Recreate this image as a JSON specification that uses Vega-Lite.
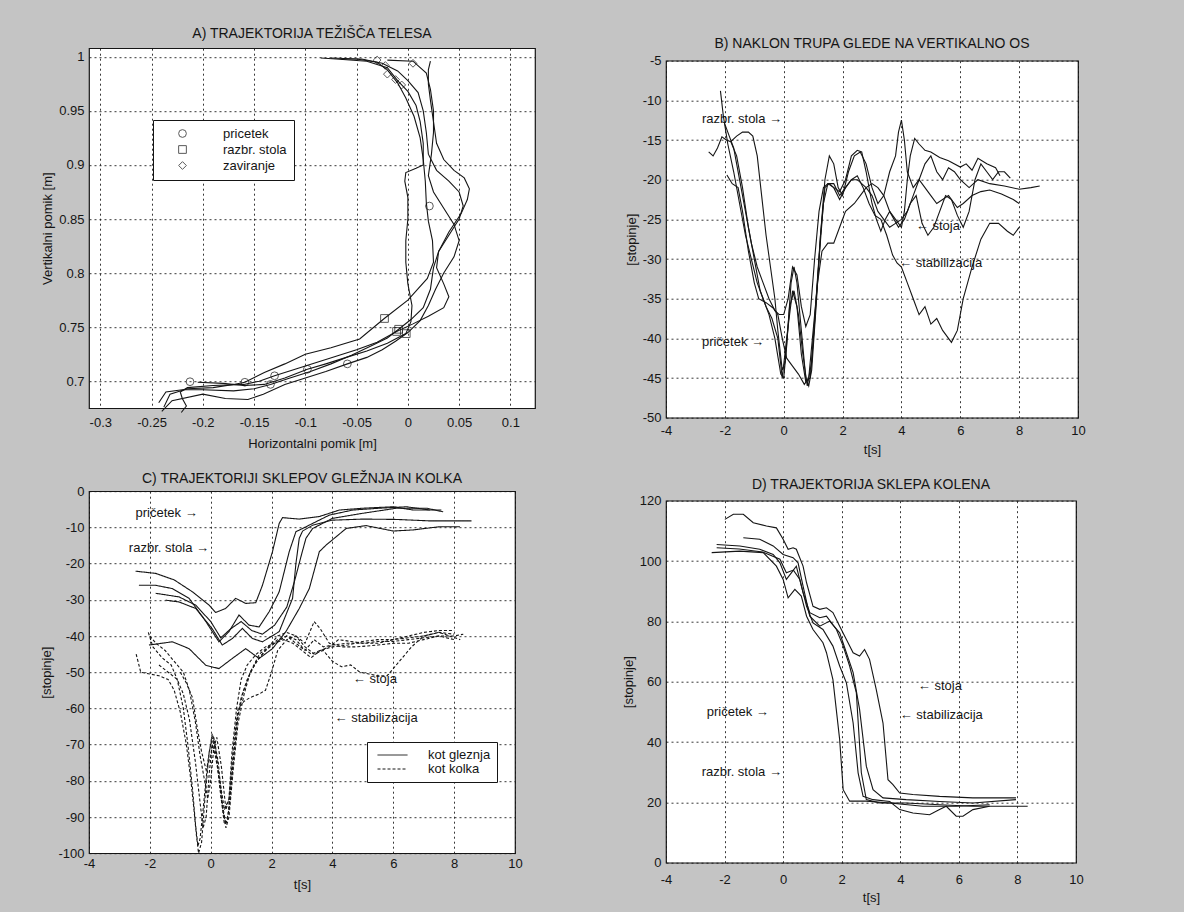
{
 "$schema": "https://vega.github.io/schema/vega-lite/v6.json",
 "background": "#c4c4c4",
 "padding": {"left": 40, "top": 26, "right": 100, "bottom": 12},
 "datasets": {
  "A": [
   {"c":1,"x":-0.238,"y":0.676},{"c":1,"x":-0.232,"y":0.688},{"c":1,"x":-0.215,"y":0.693},{"c":1,"x":-0.19,"y":0.694},{"c":1,"x":-0.17,"y":0.697},{"c":1,"x":-0.159,"y":0.699},{"c":1,"x":-0.14,"y":0.708},{"c":1,"x":-0.12,"y":0.716},{"c":1,"x":-0.1,"y":0.725},{"c":1,"x":-0.075,"y":0.731},{"c":1,"x":-0.047,"y":0.739},{"c":1,"x":-0.023,"y":0.758},{"c":1,"x":0,"y":0.775},{"c":1,"x":0.019,"y":0.795},{"c":1,"x":0.025,"y":0.81},{"c":1,"x":0.024,"y":0.83},{"c":1,"x":0.02,"y":0.848},{"c":1,"x":0.018,"y":0.865},{"c":1,"x":0.017,"y":0.885},{"c":1,"x":0.015,"y":0.905},{"c":1,"x":0.012,"y":0.925},{"c":1,"x":0.006,"y":0.945},{"c":1,"x":-0.002,"y":0.962},{"c":1,"x":-0.01,"y":0.976},{"c":1,"x":-0.02,"y":0.988},{"c":1,"x":-0.03,"y":0.995},{"c":1,"x":-0.05,"y":0.998},{"c":1,"x":-0.075,"y":0.999},
   {"c":2,"x":-0.221,"y":0.671},{"c":2,"x":-0.216,"y":0.677},{"c":2,"x":-0.22,"y":0.684},{"c":2,"x":-0.222,"y":0.69},{"c":2,"x":-0.215,"y":0.694},{"c":2,"x":-0.19,"y":0.696},{"c":2,"x":-0.16,"y":0.697},{"c":2,"x":-0.145,"y":0.7},{"c":2,"x":-0.13,"y":0.705},{"c":2,"x":-0.11,"y":0.711},{"c":2,"x":-0.09,"y":0.717},{"c":2,"x":-0.07,"y":0.723},{"c":2,"x":-0.05,"y":0.729},{"c":2,"x":-0.03,"y":0.736},{"c":2,"x":-0.011,"y":0.746},{"c":2,"x":0.005,"y":0.753},{"c":2,"x":0.02,"y":0.76},{"c":2,"x":0.035,"y":0.768},{"c":2,"x":0.04,"y":0.778},{"c":2,"x":0.035,"y":0.79},{"c":2,"x":0.028,"y":0.805},{"c":2,"x":0.03,"y":0.82},{"c":2,"x":0.04,"y":0.835},{"c":2,"x":0.05,"y":0.85},{"c":2,"x":0.054,"y":0.862},{"c":2,"x":0.05,"y":0.875},{"c":2,"x":0.04,"y":0.885},{"c":2,"x":0.028,"y":0.895},{"c":2,"x":0.02,"y":0.91},{"c":2,"x":0.018,"y":0.93},{"c":2,"x":0.015,"y":0.95},{"c":2,"x":0.01,"y":0.967},{"c":2,"x":0,"y":0.978},{"c":2,"x":-0.01,"y":0.987},{"c":2,"x":-0.025,"y":0.994},{"c":2,"x":-0.045,"y":0.998},{"c":2,"x":-0.065,"y":0.998},
   {"c":3,"x":-0.243,"y":0.68},{"c":3,"x":-0.236,"y":0.69},{"c":3,"x":-0.22,"y":0.692},{"c":3,"x":-0.2,"y":0.692},{"c":3,"x":-0.17,"y":0.691},{"c":3,"x":-0.15,"y":0.693},{"c":3,"x":-0.134,"y":0.697},{"c":3,"x":-0.115,"y":0.703},{"c":3,"x":-0.095,"y":0.709},{"c":3,"x":-0.075,"y":0.716},{"c":3,"x":-0.055,"y":0.724},{"c":3,"x":-0.035,"y":0.733},{"c":3,"x":-0.02,"y":0.74},{"c":3,"x":-0.009,"y":0.748},{"c":3,"x":0.003,"y":0.757},{"c":3,"x":0.015,"y":0.768},{"c":3,"x":0.022,"y":0.785},{"c":3,"x":0.025,"y":0.805},{"c":3,"x":0.03,"y":0.82},{"c":3,"x":0.04,"y":0.838},{"c":3,"x":0.052,"y":0.855},{"c":3,"x":0.058,"y":0.868},{"c":3,"x":0.06,"y":0.878},{"c":3,"x":0.055,"y":0.888},{"c":3,"x":0.045,"y":0.895},{"c":3,"x":0.035,"y":0.905},{"c":3,"x":0.028,"y":0.92},{"c":3,"x":0.025,"y":0.94},{"c":3,"x":0.022,"y":0.96},{"c":3,"x":0.02,"y":0.975},{"c":3,"x":0.02,"y":0.988},{"c":3,"x":0.022,"y":0.996},
   {"c":4,"x":-0.205,"y":0.699},{"c":4,"x":-0.18,"y":0.698},{"c":4,"x":-0.16,"y":0.696},{"c":4,"x":-0.14,"y":0.697},{"c":4,"x":-0.12,"y":0.703},{"c":4,"x":-0.098,"y":0.711},{"c":4,"x":-0.08,"y":0.716},{"c":4,"x":-0.06,"y":0.722},{"c":4,"x":-0.04,"y":0.728},{"c":4,"x":-0.02,"y":0.735},{"c":4,"x":-0.002,"y":0.744},{"c":4,"x":0.003,"y":0.755},{"c":4,"x":0.004,"y":0.77},{"c":4,"x":0,"y":0.79},{"c":4,"x":-0.002,"y":0.81},{"c":4,"x":-0.002,"y":0.83},{"c":4,"x":0,"y":0.85},{"c":4,"x":0,"y":0.87},{"c":4,"x":-0.003,"y":0.885},{"c":4,"x":-0.002,"y":0.893},{"c":4,"x":0.008,"y":0.897},{"c":4,"x":0.015,"y":0.9},{"c":4,"x":0.015,"y":0.92},{"c":4,"x":0.012,"y":0.94},{"c":4,"x":0.008,"y":0.955},{"c":4,"x":0,"y":0.968},{"c":4,"x":-0.01,"y":0.978},{"c":4,"x":-0.02,"y":0.99},{"c":4,"x":-0.04,"y":0.996},{"c":4,"x":-0.07,"y":0.998},{"c":4,"x":-0.085,"y":0.999},
   {"c":5,"x":-0.24,"y":0.672},{"c":5,"x":-0.23,"y":0.682},{"c":5,"x":-0.2,"y":0.688},{"c":5,"x":-0.178,"y":0.684},{"c":5,"x":-0.156,"y":0.683},{"c":5,"x":-0.141,"y":0.688},{"c":5,"x":-0.12,"y":0.697},{"c":5,"x":-0.1,"y":0.703},{"c":5,"x":-0.08,"y":0.709},{"c":5,"x":-0.059,"y":0.716},{"c":5,"x":-0.04,"y":0.722},{"c":5,"x":-0.025,"y":0.729},{"c":5,"x":-0.012,"y":0.737},{"c":5,"x":0,"y":0.745},{"c":5,"x":0.012,"y":0.756},{"c":5,"x":0.02,"y":0.77},{"c":5,"x":0.027,"y":0.785},{"c":5,"x":0.035,"y":0.8},{"c":5,"x":0.045,"y":0.815},{"c":5,"x":0.05,"y":0.83},{"c":5,"x":0.045,"y":0.845},{"c":5,"x":0.035,"y":0.86},{"c":5,"x":0.025,"y":0.875},{"c":5,"x":0.02,"y":0.89},{"c":5,"x":0.023,"y":0.91},{"c":5,"x":0.025,"y":0.93},{"c":5,"x":0.025,"y":0.95},{"c":5,"x":0.022,"y":0.97},{"c":5,"x":0.018,"y":0.985},{"c":5,"x":0.005,"y":0.996},{"c":5,"x":-0.02,"y":0.997}
  ],
  "Amk": [
   {"m":"pricetek","x":-0.2125,"y":0.6995},{"m":"pricetek","x":-0.159,"y":0.699},{"m":"pricetek","x":-0.13,"y":0.705},{"m":"pricetek","x":-0.134,"y":0.697},{"m":"pricetek","x":-0.098,"y":0.711},{"m":"pricetek","x":-0.059,"y":0.716},{"m":"pricetek","x":0.021,"y":0.862},
   {"m":"razbr. stola","x":-0.0228,"y":0.758},{"m":"razbr. stola","x":-0.011,"y":0.746},{"m":"razbr. stola","x":-0.009,"y":0.748},{"m":"razbr. stola","x":-0.0016,"y":0.744},
   {"m":"zaviranje","x":-0.03,"y":0.997},{"m":"zaviranje","x":-0.022,"y":0.992},{"m":"zaviranje","x":-0.02,"y":0.984},{"m":"zaviranje","x":-0.012,"y":0.979},{"m":"zaviranje","x":-0.006,"y":0.974},{"m":"zaviranje","x":0.005,"y":0.994}
  ],
  "B": [
   {"c":1,"t":-2.15,"v":-8.8},{"c":1,"t":-2.05,"v":-12},{"c":1,"t":-1.9,"v":-15.5},{"c":1,"t":-1.7,"v":-19},{"c":1,"t":-1.5,"v":-23},{"c":1,"t":-1.3,"v":-27},{"c":1,"t":-1.1,"v":-30},{"c":1,"t":-0.9,"v":-33},{"c":1,"t":-0.7,"v":-35},{"c":1,"t":-0.5,"v":-37},{"c":1,"t":-0.3,"v":-40},{"c":1,"t":-0.1,"v":-44.5},{"c":1,"t":0,"v":-45},{"c":1,"t":0.1,"v":-41},{"c":1,"t":0.25,"v":-33},{"c":1,"t":0.35,"v":-31},{"c":1,"t":0.45,"v":-33},{"c":1,"t":0.6,"v":-39},{"c":1,"t":0.75,"v":-45},{"c":1,"t":0.85,"v":-46},{"c":1,"t":0.95,"v":-44},{"c":1,"t":1.1,"v":-36},{"c":1,"t":1.25,"v":-27},{"c":1,"t":1.4,"v":-20},{"c":1,"t":1.55,"v":-17},{"c":1,"t":1.7,"v":-18},{"c":1,"t":1.85,"v":-21},{"c":1,"t":2,"v":-22},{"c":1,"t":2.2,"v":-19},{"c":1,"t":2.4,"v":-17},{"c":1,"t":2.6,"v":-16.5},{"c":1,"t":2.8,"v":-18},{"c":1,"t":3,"v":-21},{"c":1,"t":3.2,"v":-23},{"c":1,"t":3.4,"v":-22},{"c":1,"t":3.6,"v":-19},{"c":1,"t":3.8,"v":-17},{"c":1,"t":3.9,"v":-14},{"c":1,"t":4,"v":-12.5},{"c":1,"t":4.1,"v":-15},{"c":1,"t":4.2,"v":-19},{"c":1,"t":4.4,"v":-21},{"c":1,"t":4.6,"v":-20},{"c":1,"t":4.8,"v":-18},{"c":1,"t":5,"v":-17},{"c":1,"t":5.2,"v":-19},{"c":1,"t":5.4,"v":-20},{"c":1,"t":5.6,"v":-18.5},{"c":1,"t":5.8,"v":-19},{"c":1,"t":6,"v":-20},{"c":1,"t":6.3,"v":-21},{"c":1,"t":6.6,"v":-20},{"c":1,"t":7,"v":-20.5},{"c":1,"t":7.5,"v":-20.8},{"c":1,"t":8,"v":-21.2},{"c":1,"t":8.4,"v":-21},{"c":1,"t":8.7,"v":-20.8},
   {"c":2,"t":-2.55,"v":-16.5},{"c":2,"t":-2.4,"v":-17},{"c":2,"t":-2.25,"v":-16},{"c":2,"t":-2.1,"v":-14.6},{"c":2,"t":-1.95,"v":-15},{"c":2,"t":-1.8,"v":-15.2},{"c":2,"t":-1.6,"v":-17},{"c":2,"t":-1.4,"v":-21},{"c":2,"t":-1.2,"v":-26},{"c":2,"t":-1,"v":-30},{"c":2,"t":-0.8,"v":-34},{"c":2,"t":-0.6,"v":-36},{"c":2,"t":-0.4,"v":-37.5},{"c":2,"t":-0.2,"v":-40},{"c":2,"t":-0.05,"v":-45},{"c":2,"t":0.1,"v":-40},{"c":2,"t":0.3,"v":-34},{"c":2,"t":0.45,"v":-36},{"c":2,"t":0.6,"v":-42},{"c":2,"t":0.75,"v":-45.5},{"c":2,"t":0.9,"v":-45},{"c":2,"t":1.05,"v":-38},{"c":2,"t":1.2,"v":-30},{"c":2,"t":1.35,"v":-23},{"c":2,"t":1.5,"v":-20.5},{"c":2,"t":1.7,"v":-20.5},{"c":2,"t":1.9,"v":-22},{"c":2,"t":2.1,"v":-21},{"c":2,"t":2.3,"v":-20},{"c":2,"t":2.5,"v":-19.5},{"c":2,"t":2.7,"v":-21},{"c":2,"t":2.9,"v":-23},{"c":2,"t":3.1,"v":-24.5},{"c":2,"t":3.3,"v":-25},{"c":2,"t":3.5,"v":-27},{"c":2,"t":3.7,"v":-29.5},{"c":2,"t":3.85,"v":-30.5},{"c":2,"t":4,"v":-31},{"c":2,"t":4.2,"v":-33},{"c":2,"t":4.4,"v":-35},{"c":2,"t":4.6,"v":-37},{"c":2,"t":4.8,"v":-36},{"c":2,"t":5,"v":-38.2},{"c":2,"t":5.2,"v":-37.5},{"c":2,"t":5.4,"v":-39},{"c":2,"t":5.7,"v":-40.5},{"c":2,"t":5.9,"v":-39},{"c":2,"t":6.1,"v":-35},{"c":2,"t":6.4,"v":-31},{"c":2,"t":6.7,"v":-27.5},{"c":2,"t":7,"v":-25.5},{"c":2,"t":7.3,"v":-25.5},{"c":2,"t":7.6,"v":-26.5},{"c":2,"t":7.8,"v":-27},{"c":2,"t":8,"v":-26},
   {"c":3,"t":-1.8,"v":-15.2},{"c":3,"t":-1.6,"v":-14.5},{"c":3,"t":-1.4,"v":-14},{"c":3,"t":-1.2,"v":-14},{"c":3,"t":-1.05,"v":-14.5},{"c":3,"t":-0.9,"v":-17},{"c":3,"t":-0.75,"v":-22},{"c":3,"t":-0.6,"v":-27},{"c":3,"t":-0.45,"v":-31},{"c":3,"t":-0.3,"v":-35},{"c":3,"t":-0.2,"v":-39},{"c":3,"t":-0.05,"v":-44},{"c":3,"t":0.05,"v":-43},{"c":3,"t":0.2,"v":-36},{"c":3,"t":0.35,"v":-34},{"c":3,"t":0.5,"v":-37},{"c":3,"t":0.65,"v":-42},{"c":3,"t":0.8,"v":-46},{"c":3,"t":0.95,"v":-43},{"c":3,"t":1.1,"v":-35},{"c":3,"t":1.25,"v":-27},{"c":3,"t":1.4,"v":-21},{"c":3,"t":1.55,"v":-20.5},{"c":3,"t":1.7,"v":-21},{"c":3,"t":1.9,"v":-22.5},{"c":3,"t":2.1,"v":-21},{"c":3,"t":2.3,"v":-20},{"c":3,"t":2.5,"v":-20},{"c":3,"t":2.8,"v":-21},{"c":3,"t":3,"v":-22},{"c":3,"t":3.2,"v":-24},{"c":3,"t":3.4,"v":-25},{"c":3,"t":3.6,"v":-26},{"c":3,"t":3.8,"v":-25.5},{"c":3,"t":4,"v":-25},{"c":3,"t":4.2,"v":-24},{"c":3,"t":4.4,"v":-22},{"c":3,"t":4.6,"v":-20},{"c":3,"t":4.8,"v":-21},{"c":3,"t":5,"v":-22},{"c":3,"t":5.2,"v":-23},{"c":3,"t":5.4,"v":-22.5},{"c":3,"t":5.6,"v":-22},{"c":3,"t":5.9,"v":-23.5},{"c":3,"t":6.1,"v":-23},{"c":3,"t":6.4,"v":-22},{"c":3,"t":6.7,"v":-21.5},{"c":3,"t":7,"v":-21.3},{"c":3,"t":7.4,"v":-21.8},{"c":3,"t":7.8,"v":-22.5},{"c":3,"t":8,"v":-23},
   {"c":4,"t":-1.93,"v":-19.4},{"c":4,"t":-1.75,"v":-20.5},{"c":4,"t":-1.55,"v":-21},{"c":4,"t":-1.4,"v":-24},{"c":4,"t":-1.2,"v":-29},{"c":4,"t":-1,"v":-33},{"c":4,"t":-0.85,"v":-35},{"c":4,"t":-0.6,"v":-35.5},{"c":4,"t":-0.35,"v":-36.2},{"c":4,"t":-0.2,"v":-37},{"c":4,"t":-0.05,"v":-40},{"c":4,"t":0.1,"v":-42.5},{"c":4,"t":0.3,"v":-43.5},{"c":4,"t":0.5,"v":-44.5},{"c":4,"t":0.7,"v":-45.8},{"c":4,"t":0.85,"v":-45},{"c":4,"t":1,"v":-39},{"c":4,"t":1.15,"v":-33},{"c":4,"t":1.3,"v":-29},{"c":4,"t":1.5,"v":-28},{"c":4,"t":1.7,"v":-28},{"c":4,"t":1.9,"v":-26},{"c":4,"t":2.1,"v":-24},{"c":4,"t":2.4,"v":-23},{"c":4,"t":2.6,"v":-22},{"c":4,"t":2.8,"v":-21},{"c":4,"t":3,"v":-20.5},{"c":4,"t":3.2,"v":-21},{"c":4,"t":3.4,"v":-22},{"c":4,"t":3.6,"v":-24},{"c":4,"t":3.8,"v":-25},{"c":4,"t":4,"v":-26},{"c":4,"t":4.1,"v":-24},{"c":4,"t":4.2,"v":-20},{"c":4,"t":4.3,"v":-17},{"c":4,"t":4.45,"v":-14.8},{"c":4,"t":4.6,"v":-15.5},{"c":4,"t":4.8,"v":-16.3},{"c":4,"t":5,"v":-16.5},{"c":4,"t":5.3,"v":-17.2},{"c":4,"t":5.6,"v":-17.6},{"c":4,"t":6,"v":-18.4},{"c":4,"t":6.2,"v":-18},{"c":4,"t":6.4,"v":-18.8},{"c":4,"t":6.6,"v":-17.3},{"c":4,"t":6.9,"v":-18},{"c":4,"t":7.2,"v":-18.5},{"c":4,"t":7.35,"v":-19.5},
   {"c":5,"t":-2,"v":-13},{"c":5,"t":-1.85,"v":-14.5},{"c":5,"t":-1.7,"v":-16},{"c":5,"t":-1.5,"v":-20},{"c":5,"t":-1.3,"v":-24},{"c":5,"t":-1.1,"v":-28},{"c":5,"t":-0.9,"v":-31},{"c":5,"t":-0.7,"v":-33},{"c":5,"t":-0.5,"v":-35},{"c":5,"t":-0.3,"v":-36.5},{"c":5,"t":-0.15,"v":-37},{"c":5,"t":0,"v":-37},{"c":5,"t":0.15,"v":-35},{"c":5,"t":0.3,"v":-31},{"c":5,"t":0.45,"v":-32},{"c":5,"t":0.6,"v":-36},{"c":5,"t":0.75,"v":-38.5},{"c":5,"t":0.9,"v":-37},{"c":5,"t":1.05,"v":-30},{"c":5,"t":1.2,"v":-24},{"c":5,"t":1.35,"v":-21},{"c":5,"t":1.5,"v":-20.5},{"c":5,"t":1.7,"v":-21},{"c":5,"t":1.9,"v":-21.5},{"c":5,"t":2.1,"v":-20},{"c":5,"t":2.3,"v":-17},{"c":5,"t":2.5,"v":-16.3},{"c":5,"t":2.65,"v":-16.5},{"c":5,"t":2.8,"v":-19},{"c":5,"t":3,"v":-23},{"c":5,"t":3.15,"v":-25},{"c":5,"t":3.3,"v":-26.5},{"c":5,"t":3.45,"v":-25},{"c":5,"t":3.6,"v":-24},{"c":5,"t":3.75,"v":-25},{"c":5,"t":3.9,"v":-26},{"c":5,"t":4.1,"v":-25},{"c":5,"t":4.3,"v":-23},{"c":5,"t":4.5,"v":-22},{"c":5,"t":4.7,"v":-25.5},{"c":5,"t":4.9,"v":-27},{"c":5,"t":5.1,"v":-26},{"c":5,"t":5.3,"v":-24},{"c":5,"t":5.5,"v":-22},{"c":5,"t":5.7,"v":-22.5},{"c":5,"t":5.9,"v":-24.5},{"c":5,"t":6.1,"v":-26},{"c":5,"t":6.3,"v":-24},{"c":5,"t":6.5,"v":-20},{"c":5,"t":6.7,"v":-18},{"c":5,"t":6.9,"v":-19},{"c":5,"t":7.1,"v":-20},{"c":5,"t":7.3,"v":-19},{"c":5,"t":7.5,"v":-19},{"c":5,"t":7.7,"v":-19.8}
  ],
  "C": [
   {"c":"g1","j":"kot gleznja","t":-2.47,"v":-22.1},{"c":"g1","j":"kot gleznja","t":-1.81,"v":-22.7},{"c":"g1","j":"kot gleznja","t":-1.2,"v":-24.5},{"c":"g1","j":"kot gleznja","t":-0.6,"v":-27.8},{"c":"g1","j":"kot gleznja","t":-0.05,"v":-31.5},{"c":"g1","j":"kot gleznja","t":0.16,"v":-33.5},{"c":"g1","j":"kot gleznja","t":0.49,"v":-32.4},{"c":"g1","j":"kot gleznja","t":0.82,"v":-29.6},{"c":"g1","j":"kot gleznja","t":1.15,"v":-31},{"c":"g1","j":"kot gleznja","t":1.48,"v":-30.8},{"c":"g1","j":"kot gleznja","t":1.7,"v":-26},{"c":"g1","j":"kot gleznja","t":2.03,"v":-16.7},{"c":"g1","j":"kot gleznja","t":2.25,"v":-8.9},{"c":"g1","j":"kot gleznja","t":2.36,"v":-7.3},{"c":"g1","j":"kot gleznja","t":2.9,"v":-7.7},{"c":"g1","j":"kot gleznja","t":3.57,"v":-7},{"c":"g1","j":"kot gleznja","t":4.23,"v":-5.2},{"c":"g1","j":"kot gleznja","t":5,"v":-4.7},{"c":"g1","j":"kot gleznja","t":6,"v":-4.3},{"c":"g1","j":"kot gleznja","t":6.65,"v":-5.2},{"c":"g1","j":"kot gleznja","t":7.58,"v":-5.2},
   {"c":"g2","j":"kot gleznja","t":-2.36,"v":-26},{"c":"g2","j":"kot gleznja","t":-1.81,"v":-26},{"c":"g2","j":"kot gleznja","t":-1.26,"v":-26.9},{"c":"g2","j":"kot gleznja","t":-0.71,"v":-29.6},{"c":"g2","j":"kot gleznja","t":-0.16,"v":-36},{"c":"g2","j":"kot gleznja","t":0.27,"v":-41.6},{"c":"g2","j":"kot gleznja","t":0.6,"v":-38.8},{"c":"g2","j":"kot gleznja","t":0.93,"v":-34.2},{"c":"g2","j":"kot gleznja","t":1.26,"v":-37},{"c":"g2","j":"kot gleznja","t":1.59,"v":-37.5},{"c":"g2","j":"kot gleznja","t":1.92,"v":-33.3},{"c":"g2","j":"kot gleznja","t":2.25,"v":-27.8},{"c":"g2","j":"kot gleznja","t":2.58,"v":-16.7},{"c":"g2","j":"kot gleznja","t":2.8,"v":-11.2},{"c":"g2","j":"kot gleznja","t":3.02,"v":-10.3},{"c":"g2","j":"kot gleznja","t":3.35,"v":-8.9},{"c":"g2","j":"kot gleznja","t":3.9,"v":-6.6},{"c":"g2","j":"kot gleznja","t":4.67,"v":-5.2},{"c":"g2","j":"kot gleznja","t":5.55,"v":-4.7},{"c":"g2","j":"kot gleznja","t":6.43,"v":-4.3},{"c":"g2","j":"kot gleznja","t":7.2,"v":-5.2},
   {"c":"g3","j":"kot gleznja","t":-1.48,"v":-30.1},{"c":"g3","j":"kot gleznja","t":-1.04,"v":-30.6},{"c":"g3","j":"kot gleznja","t":-0.49,"v":-32.4},{"c":"g3","j":"kot gleznja","t":0.05,"v":-38},{"c":"g3","j":"kot gleznja","t":0.38,"v":-42.5},{"c":"g3","j":"kot gleznja","t":0.71,"v":-40.7},{"c":"g3","j":"kot gleznja","t":1.04,"v":-37.9},{"c":"g3","j":"kot gleznja","t":1.37,"v":-40.7},{"c":"g3","j":"kot gleznja","t":1.7,"v":-41.6},{"c":"g3","j":"kot gleznja","t":2.25,"v":-38.8},{"c":"g3","j":"kot gleznja","t":2.69,"v":-29.6},{"c":"g3","j":"kot gleznja","t":2.8,"v":-20},{"c":"g3","j":"kot gleznja","t":2.91,"v":-13},{"c":"g3","j":"kot gleznja","t":3.02,"v":-11},{"c":"g3","j":"kot gleznja","t":3.35,"v":-9.4},{"c":"g3","j":"kot gleznja","t":4,"v":-8},{"c":"g3","j":"kot gleznja","t":5,"v":-7.7},{"c":"g3","j":"kot gleznja","t":6.1,"v":-7.8},{"c":"g3","j":"kot gleznja","t":7.2,"v":-8.2},{"c":"g3","j":"kot gleznja","t":8.57,"v":-8.2},
   {"c":"g4","j":"kot gleznja","t":-2.03,"v":-42.5},{"c":"g4","j":"kot gleznja","t":-1.26,"v":-41.6},{"c":"g4","j":"kot gleznja","t":-0.71,"v":-43.5},{"c":"g4","j":"kot gleznja","t":-0.16,"v":-48.1},{"c":"g4","j":"kot gleznja","t":0.27,"v":-49},{"c":"g4","j":"kot gleznja","t":0.71,"v":-46.2},{"c":"g4","j":"kot gleznja","t":1.15,"v":-43.5},{"c":"g4","j":"kot gleznja","t":1.59,"v":-46.2},{"c":"g4","j":"kot gleznja","t":2.03,"v":-43.5},{"c":"g4","j":"kot gleznja","t":2.47,"v":-38.8},{"c":"g4","j":"kot gleznja","t":2.91,"v":-32.4},{"c":"g4","j":"kot gleznja","t":3.24,"v":-26.9},{"c":"g4","j":"kot gleznja","t":3.57,"v":-16.7},{"c":"g4","j":"kot gleznja","t":3.79,"v":-14.9},{"c":"g4","j":"kot gleznja","t":4.12,"v":-12.6},{"c":"g4","j":"kot gleznja","t":4.45,"v":-10.3},{"c":"g4","j":"kot gleznja","t":5.1,"v":-9.5},{"c":"g4","j":"kot gleznja","t":6,"v":-11},{"c":"g4","j":"kot gleznja","t":6.65,"v":-10.7},{"c":"g4","j":"kot gleznja","t":7.53,"v":-9.8},{"c":"g4","j":"kot gleznja","t":8.19,"v":-9.8},
   {"c":"g5","j":"kot gleznja","t":-1.81,"v":-28.2},{"c":"g5","j":"kot gleznja","t":-1.04,"v":-29.2},{"c":"g5","j":"kot gleznja","t":-0.49,"v":-31.5},{"c":"g5","j":"kot gleznja","t":0,"v":-36},{"c":"g5","j":"kot gleznja","t":0.33,"v":-40.5},{"c":"g5","j":"kot gleznja","t":0.66,"v":-38},{"c":"g5","j":"kot gleznja","t":1,"v":-36},{"c":"g5","j":"kot gleznja","t":1.35,"v":-38.5},{"c":"g5","j":"kot gleznja","t":1.7,"v":-39.5},{"c":"g5","j":"kot gleznja","t":2.1,"v":-37},{"c":"g5","j":"kot gleznja","t":2.5,"v":-32},{"c":"g5","j":"kot gleznja","t":2.75,"v":-25},{"c":"g5","j":"kot gleznja","t":3,"v":-17},{"c":"g5","j":"kot gleznja","t":3.13,"v":-13},{"c":"g5","j":"kot gleznja","t":3.35,"v":-10.3},{"c":"g5","j":"kot gleznja","t":4,"v":-7.5},{"c":"g5","j":"kot gleznja","t":5,"v":-6.1},{"c":"g5","j":"kot gleznja","t":6.1,"v":-4.7},{"c":"g5","j":"kot gleznja","t":7.1,"v":-4.7},{"c":"g5","j":"kot gleznja","t":7.64,"v":-5.7},
   {"c":"h1","j":"kot kolka","t":-2.05,"v":-39},{"c":"h1","j":"kot kolka","t":-1.9,"v":-43},{"c":"h1","j":"kot kolka","t":-1.6,"v":-46},{"c":"h1","j":"kot kolka","t":-1.3,"v":-48},{"c":"h1","j":"kot kolka","t":-1.1,"v":-52},{"c":"h1","j":"kot kolka","t":-0.9,"v":-60},{"c":"h1","j":"kot kolka","t":-0.75,"v":-70},{"c":"h1","j":"kot kolka","t":-0.6,"v":-82},{"c":"h1","j":"kot kolka","t":-0.5,"v":-92},{"c":"h1","j":"kot kolka","t":-0.42,"v":-98},{"c":"h1","j":"kot kolka","t":-0.35,"v":-96},{"c":"h1","j":"kot kolka","t":-0.25,"v":-88},{"c":"h1","j":"kot kolka","t":-0.1,"v":-75},{"c":"h1","j":"kot kolka","t":0.05,"v":-67},{"c":"h1","j":"kot kolka","t":0.15,"v":-70},{"c":"h1","j":"kot kolka","t":0.3,"v":-82},{"c":"h1","j":"kot kolka","t":0.45,"v":-92},{"c":"h1","j":"kot kolka","t":0.55,"v":-91},{"c":"h1","j":"kot kolka","t":0.7,"v":-78},{"c":"h1","j":"kot kolka","t":0.85,"v":-64},{"c":"h1","j":"kot kolka","t":1,"v":-57},{"c":"h1","j":"kot kolka","t":1.2,"v":-52},{"c":"h1","j":"kot kolka","t":1.5,"v":-47},{"c":"h1","j":"kot kolka","t":1.8,"v":-44},{"c":"h1","j":"kot kolka","t":2.1,"v":-42},{"c":"h1","j":"kot kolka","t":2.5,"v":-40},{"c":"h1","j":"kot kolka","t":2.8,"v":-42},{"c":"h1","j":"kot kolka","t":3.1,"v":-44},{"c":"h1","j":"kot kolka","t":3.4,"v":-41},{"c":"h1","j":"kot kolka","t":3.7,"v":-43},{"c":"h1","j":"kot kolka","t":4,"v":-42.5},{"c":"h1","j":"kot kolka","t":4.5,"v":-42},{"c":"h1","j":"kot kolka","t":5,"v":-42},{"c":"h1","j":"kot kolka","t":5.5,"v":-41.5},{"c":"h1","j":"kot kolka","t":6,"v":-41.5},{"c":"h1","j":"kot kolka","t":6.5,"v":-41},{"c":"h1","j":"kot kolka","t":7,"v":-40.5},{"c":"h1","j":"kot kolka","t":7.5,"v":-40},{"c":"h1","j":"kot kolka","t":8,"v":-40},{"c":"h1","j":"kot kolka","t":8.3,"v":-39.5},
   {"c":"h2","j":"kot kolka","t":-2.45,"v":-45},{"c":"h2","j":"kot kolka","t":-2.3,"v":-50},{"c":"h2","j":"kot kolka","t":-2,"v":-50.5},{"c":"h2","j":"kot kolka","t":-1.7,"v":-51},{"c":"h2","j":"kot kolka","t":-1.4,"v":-52},{"c":"h2","j":"kot kolka","t":-1.2,"v":-55},{"c":"h2","j":"kot kolka","t":-1,"v":-61},{"c":"h2","j":"kot kolka","t":-0.8,"v":-70},{"c":"h2","j":"kot kolka","t":-0.65,"v":-80},{"c":"h2","j":"kot kolka","t":-0.55,"v":-88},{"c":"h2","j":"kot kolka","t":-0.47,"v":-95},{"c":"h2","j":"kot kolka","t":-0.4,"v":-100},{"c":"h2","j":"kot kolka","t":-0.3,"v":-97},{"c":"h2","j":"kot kolka","t":-0.2,"v":-86},{"c":"h2","j":"kot kolka","t":-0.05,"v":-72},{"c":"h2","j":"kot kolka","t":0.05,"v":-68},{"c":"h2","j":"kot kolka","t":0.2,"v":-74},{"c":"h2","j":"kot kolka","t":0.35,"v":-85},{"c":"h2","j":"kot kolka","t":0.5,"v":-92},{"c":"h2","j":"kot kolka","t":0.6,"v":-88},{"c":"h2","j":"kot kolka","t":0.75,"v":-74},{"c":"h2","j":"kot kolka","t":0.9,"v":-62},{"c":"h2","j":"kot kolka","t":1.05,"v":-56},{"c":"h2","j":"kot kolka","t":1.3,"v":-50},{"c":"h2","j":"kot kolka","t":1.6,"v":-45},{"c":"h2","j":"kot kolka","t":1.9,"v":-43},{"c":"h2","j":"kot kolka","t":2.2,"v":-40},{"c":"h2","j":"kot kolka","t":2.5,"v":-39},{"c":"h2","j":"kot kolka","t":2.8,"v":-40},{"c":"h2","j":"kot kolka","t":3.1,"v":-42},{"c":"h2","j":"kot kolka","t":3.4,"v":-36},{"c":"h2","j":"kot kolka","t":3.6,"v":-38},{"c":"h2","j":"kot kolka","t":3.9,"v":-42},{"c":"h2","j":"kot kolka","t":4.3,"v":-43},{"c":"h2","j":"kot kolka","t":4.8,"v":-43},{"c":"h2","j":"kot kolka","t":5.5,"v":-42.5},{"c":"h2","j":"kot kolka","t":6,"v":-42},{"c":"h2","j":"kot kolka","t":6.5,"v":-42},{"c":"h2","j":"kot kolka","t":7,"v":-41},{"c":"h2","j":"kot kolka","t":7.5,"v":-40},{"c":"h2","j":"kot kolka","t":8,"v":-41},
   {"c":"h3","j":"kot kolka","t":-1.7,"v":-48},{"c":"h3","j":"kot kolka","t":-1.4,"v":-50},{"c":"h3","j":"kot kolka","t":-1.1,"v":-52},{"c":"h3","j":"kot kolka","t":-0.9,"v":-56},{"c":"h3","j":"kot kolka","t":-0.7,"v":-63},{"c":"h3","j":"kot kolka","t":-0.5,"v":-75},{"c":"h3","j":"kot kolka","t":-0.35,"v":-86},{"c":"h3","j":"kot kolka","t":-0.25,"v":-93},{"c":"h3","j":"kot kolka","t":-0.15,"v":-90},{"c":"h3","j":"kot kolka","t":-0.05,"v":-78},{"c":"h3","j":"kot kolka","t":0.05,"v":-70},{"c":"h3","j":"kot kolka","t":0.15,"v":-73},{"c":"h3","j":"kot kolka","t":0.3,"v":-80},{"c":"h3","j":"kot kolka","t":0.45,"v":-88},{"c":"h3","j":"kot kolka","t":0.6,"v":-85},{"c":"h3","j":"kot kolka","t":0.75,"v":-70},{"c":"h3","j":"kot kolka","t":0.9,"v":-60},{"c":"h3","j":"kot kolka","t":1.1,"v":-58},{"c":"h3","j":"kot kolka","t":1.3,"v":-57},{"c":"h3","j":"kot kolka","t":1.6,"v":-56},{"c":"h3","j":"kot kolka","t":1.8,"v":-55},{"c":"h3","j":"kot kolka","t":2,"v":-50},{"c":"h3","j":"kot kolka","t":2.2,"v":-44},{"c":"h3","j":"kot kolka","t":2.5,"v":-41},{"c":"h3","j":"kot kolka","t":2.8,"v":-40},{"c":"h3","j":"kot kolka","t":3.1,"v":-43},{"c":"h3","j":"kot kolka","t":3.4,"v":-45},{"c":"h3","j":"kot kolka","t":3.7,"v":-44},{"c":"h3","j":"kot kolka","t":4,"v":-47},{"c":"h3","j":"kot kolka","t":4.3,"v":-48.5},{"c":"h3","j":"kot kolka","t":4.6,"v":-48},{"c":"h3","j":"kot kolka","t":4.9,"v":-50},{"c":"h3","j":"kot kolka","t":5.2,"v":-50.5},{"c":"h3","j":"kot kolka","t":5.5,"v":-51},{"c":"h3","j":"kot kolka","t":5.8,"v":-51},{"c":"h3","j":"kot kolka","t":6.2,"v":-47},{"c":"h3","j":"kot kolka","t":6.6,"v":-43},{"c":"h3","j":"kot kolka","t":7,"v":-40},{"c":"h3","j":"kot kolka","t":7.5,"v":-39},{"c":"h3","j":"kot kolka","t":8,"v":-39.5},
   {"c":"h4","j":"kot kolka","t":-1,"v":-50},{"c":"h4","j":"kot kolka","t":-0.8,"v":-53},{"c":"h4","j":"kot kolka","t":-0.6,"v":-57},{"c":"h4","j":"kot kolka","t":-0.45,"v":-65},{"c":"h4","j":"kot kolka","t":-0.3,"v":-72},{"c":"h4","j":"kot kolka","t":-0.15,"v":-77},{"c":"h4","j":"kot kolka","t":0,"v":-73},{"c":"h4","j":"kot kolka","t":0.1,"v":-68},{"c":"h4","j":"kot kolka","t":0.25,"v":-75},{"c":"h4","j":"kot kolka","t":0.4,"v":-88},{"c":"h4","j":"kot kolka","t":0.5,"v":-93},{"c":"h4","j":"kot kolka","t":0.6,"v":-90},{"c":"h4","j":"kot kolka","t":0.75,"v":-76},{"c":"h4","j":"kot kolka","t":0.9,"v":-64},{"c":"h4","j":"kot kolka","t":1.1,"v":-56},{"c":"h4","j":"kot kolka","t":1.3,"v":-50},{"c":"h4","j":"kot kolka","t":1.6,"v":-46},{"c":"h4","j":"kot kolka","t":1.9,"v":-43},{"c":"h4","j":"kot kolka","t":2.2,"v":-41},{"c":"h4","j":"kot kolka","t":2.5,"v":-40},{"c":"h4","j":"kot kolka","t":2.8,"v":-41},{"c":"h4","j":"kot kolka","t":3,"v":-43},{"c":"h4","j":"kot kolka","t":3.3,"v":-45},{"c":"h4","j":"kot kolka","t":3.6,"v":-44},{"c":"h4","j":"kot kolka","t":4,"v":-43},{"c":"h4","j":"kot kolka","t":4.5,"v":-42.5},{"c":"h4","j":"kot kolka","t":5,"v":-41.5},{"c":"h4","j":"kot kolka","t":5.5,"v":-41},{"c":"h4","j":"kot kolka","t":6,"v":-41},{"c":"h4","j":"kot kolka","t":6.5,"v":-40.5},{"c":"h4","j":"kot kolka","t":7,"v":-40},{"c":"h4","j":"kot kolka","t":7.5,"v":-39},{"c":"h4","j":"kot kolka","t":8.2,"v":-41},
   {"c":"h5","j":"kot kolka","t":-2,"v":-40},{"c":"h5","j":"kot kolka","t":-1.8,"v":-42},{"c":"h5","j":"kot kolka","t":-1.5,"v":-44},{"c":"h5","j":"kot kolka","t":-1.2,"v":-47},{"c":"h5","j":"kot kolka","t":-0.9,"v":-50},{"c":"h5","j":"kot kolka","t":-0.7,"v":-55},{"c":"h5","j":"kot kolka","t":-0.5,"v":-64},{"c":"h5","j":"kot kolka","t":-0.35,"v":-73},{"c":"h5","j":"kot kolka","t":-0.2,"v":-80},{"c":"h5","j":"kot kolka","t":-0.1,"v":-85},{"c":"h5","j":"kot kolka","t":0,"v":-80},{"c":"h5","j":"kot kolka","t":0.1,"v":-71},{"c":"h5","j":"kot kolka","t":0.2,"v":-68},{"c":"h5","j":"kot kolka","t":0.35,"v":-76},{"c":"h5","j":"kot kolka","t":0.5,"v":-88},{"c":"h5","j":"kot kolka","t":0.6,"v":-85},{"c":"h5","j":"kot kolka","t":0.7,"v":-72},{"c":"h5","j":"kot kolka","t":0.85,"v":-60},{"c":"h5","j":"kot kolka","t":1,"v":-52},{"c":"h5","j":"kot kolka","t":1.2,"v":-48},{"c":"h5","j":"kot kolka","t":1.5,"v":-45},{"c":"h5","j":"kot kolka","t":1.8,"v":-43},{"c":"h5","j":"kot kolka","t":2.1,"v":-42},{"c":"h5","j":"kot kolka","t":2.4,"v":-41},{"c":"h5","j":"kot kolka","t":2.7,"v":-42},{"c":"h5","j":"kot kolka","t":3,"v":-44},{"c":"h5","j":"kot kolka","t":3.3,"v":-46},{"c":"h5","j":"kot kolka","t":3.6,"v":-44},{"c":"h5","j":"kot kolka","t":3.9,"v":-43},{"c":"h5","j":"kot kolka","t":4.2,"v":-41},{"c":"h5","j":"kot kolka","t":4.6,"v":-41.5},{"c":"h5","j":"kot kolka","t":5,"v":-42},{"c":"h5","j":"kot kolka","t":5.5,"v":-42},{"c":"h5","j":"kot kolka","t":6,"v":-41},{"c":"h5","j":"kot kolka","t":6.5,"v":-40},{"c":"h5","j":"kot kolka","t":7,"v":-39},{"c":"h5","j":"kot kolka","t":7.5,"v":-38.5},{"c":"h5","j":"kot kolka","t":8,"v":-38.5}
  ],
  "D": [
   {"c":1,"t":-1.99,"v":113.8},{"c":1,"t":-1.7,"v":115.5},{"c":1,"t":-1.36,"v":115.5},{"c":1,"t":-1.02,"v":112.7},{"c":1,"t":-0.57,"v":111.6},{"c":1,"t":-0.23,"v":111},{"c":1,"t":0,"v":107.2},{"c":1,"t":0.17,"v":103.9},{"c":1,"t":0.34,"v":104.4},{"c":1,"t":0.45,"v":103.9},{"c":1,"t":0.68,"v":98.3},{"c":1,"t":0.8,"v":92.8},{"c":1,"t":1.02,"v":85},{"c":1,"t":1.25,"v":84},{"c":1,"t":1.48,"v":84.5},{"c":1,"t":1.7,"v":82.9},{"c":1,"t":1.93,"v":78.4},{"c":1,"t":2.16,"v":74},{"c":1,"t":2.39,"v":69.6},{"c":1,"t":2.61,"v":68.5},{"c":1,"t":2.78,"v":70.7},{"c":1,"t":2.95,"v":67.4},{"c":1,"t":3.18,"v":57.4},{"c":1,"t":3.41,"v":46.3},{"c":1,"t":3.58,"v":27.5},{"c":1,"t":3.75,"v":25.9},{"c":1,"t":3.98,"v":23.1},{"c":1,"t":4.43,"v":22.6},{"c":1,"t":5.34,"v":22},{"c":1,"t":6.48,"v":21.5},{"c":1,"t":7.61,"v":21.5},{"c":1,"t":7.95,"v":21.5},
   {"c":2,"t":-1.36,"v":107.7},{"c":2,"t":-0.8,"v":107.2},{"c":2,"t":-0.34,"v":105},{"c":2,"t":0,"v":102.2},{"c":2,"t":0.34,"v":101.1},{"c":2,"t":0.51,"v":99.4},{"c":2,"t":0.68,"v":91.7},{"c":2,"t":0.91,"v":81.7},{"c":2,"t":1.25,"v":78.4},{"c":2,"t":1.59,"v":80.1},{"c":2,"t":1.93,"v":76.2},{"c":2,"t":2.16,"v":69.6},{"c":2,"t":2.39,"v":63},{"c":2,"t":2.61,"v":50.8},{"c":2,"t":2.84,"v":32},{"c":2,"t":3.07,"v":24.2},{"c":2,"t":3.41,"v":21.5},{"c":2,"t":4.2,"v":20.9},{"c":2,"t":5.34,"v":20.3},{"c":2,"t":6.48,"v":19.8},{"c":2,"t":7.95,"v":20.9},
   {"c":3,"t":-2.27,"v":105.5},{"c":3,"t":-1.48,"v":105},{"c":3,"t":-0.8,"v":103.9},{"c":3,"t":-0.34,"v":102.2},{"c":3,"t":-0.11,"v":99.4},{"c":3,"t":0.11,"v":93.9},{"c":3,"t":0.28,"v":96.1},{"c":3,"t":0.45,"v":98.3},{"c":3,"t":0.68,"v":89.5},{"c":3,"t":0.91,"v":82.9},{"c":3,"t":1.25,"v":81.2},{"c":3,"t":1.48,"v":81.7},{"c":3,"t":1.82,"v":77.3},{"c":3,"t":2.05,"v":71.8},{"c":3,"t":2.27,"v":65.2},{"c":3,"t":2.5,"v":56.3},{"c":3,"t":2.67,"v":29.8},{"c":3,"t":2.84,"v":20.9},{"c":3,"t":3.3,"v":19.8},{"c":3,"t":4.2,"v":19.8},{"c":3,"t":5.34,"v":19.2},{"c":3,"t":6.48,"v":18.7},{"c":3,"t":7.61,"v":18.7},{"c":3,"t":8.35,"v":18.7},
   {"c":4,"t":-2.44,"v":102.8},{"c":4,"t":-1.48,"v":103.3},{"c":4,"t":-0.68,"v":102.8},{"c":4,"t":-0.23,"v":98.3},{"c":4,"t":0,"v":93.9},{"c":4,"t":0.17,"v":87.8},{"c":4,"t":0.4,"v":90.6},{"c":4,"t":0.62,"v":88.4},{"c":4,"t":0.8,"v":81.7},{"c":4,"t":1.02,"v":77.3},{"c":4,"t":1.36,"v":72.9},{"c":4,"t":1.48,"v":69.6},{"c":4,"t":1.7,"v":60.7},{"c":4,"t":1.93,"v":40.8},{"c":4,"t":2.05,"v":24.2},{"c":4,"t":2.27,"v":20.4},{"c":4,"t":2.84,"v":20.4},{"c":4,"t":3.64,"v":19.8},{"c":4,"t":4.77,"v":18.7},{"c":4,"t":5.91,"v":18.7},{"c":4,"t":7.05,"v":19.2},
   {"c":5,"t":-2.27,"v":104.4},{"c":5,"t":-1.5,"v":104},{"c":5,"t":-0.7,"v":103},{"c":5,"t":-0.11,"v":100.6},{"c":5,"t":0.11,"v":96.1},{"c":5,"t":0.35,"v":97},{"c":5,"t":0.57,"v":93.9},{"c":5,"t":0.8,"v":85},{"c":5,"t":1.02,"v":79.5},{"c":5,"t":1.36,"v":77.3},{"c":5,"t":1.7,"v":71.8},{"c":5,"t":1.93,"v":65.2},{"c":5,"t":2.16,"v":59.6},{"c":5,"t":2.39,"v":46.3},{"c":5,"t":2.56,"v":29.8},{"c":5,"t":2.73,"v":22},{"c":5,"t":3.07,"v":20.9},{"c":5,"t":3.64,"v":20.3},{"c":5,"t":3.98,"v":17.6},{"c":5,"t":4.43,"v":16.5},{"c":5,"t":5,"v":15.9},{"c":5,"t":5.34,"v":17.6},{"c":5,"t":5.57,"v":18.7},{"c":5,"t":5.91,"v":15.4},{"c":5,"t":6.14,"v":15.4},{"c":5,"t":6.48,"v":17.6},{"c":5,"t":7.05,"v":18.7}
  ],
  "Bn": [{"t":-2.78,"v":-12.3,"s":"razbr. stola →"},{"t":-2.78,"v":-40.4,"s":"pričetek →"},{"t":4.49,"v":-25.8,"s":"← stoja"},{"t":3.92,"v":-30.5,"s":"← stabilizacija"}],
  "Cn": [{"t":-2.47,"v":-5.9,"s":"pričetek →"},{"t":-2.69,"v":-15.8,"s":"razbr. stola →"},{"t":4.67,"v":-52,"s":"← stoja"},{"t":4.07,"v":-62.6,"s":"← stabilizacija"}],
  "Dn": [{"t":-2.61,"v":49.9,"s":"pričetek →"},{"t":-2.78,"v":30.1,"s":"razbr. stola →"},{"t":4.6,"v":58.7,"s":"← stoja"},{"t":3.98,"v":48.8,"s":"← stabilizacija"}]
 },
 "spacing": 85,
 "center": true,
 "hconcat": [
  {
   "spacing": 83, "bounds": "flush",
   "vconcat": [
    {
     "width": 446, "height": 360,
     "title": {"text": "A) TRAJEKTORIJA TEŽIŠČA TELESA", "offset": 7},
     "layer": [
      {
       "data": {"name": "A"},
       "transform": [{"window": [{"op": "row_number", "as": "i"}]}],
       "mark": {"type": "line", "color": "#151515", "strokeWidth": 1.1},
       "encoding": {
        "x": {"field": "x", "type": "quantitative", "scale": {"domain": [-0.311, 0.124], "nice": false, "zero": false},
              "axis": {"values": [-0.3, -0.25, -0.2, -0.15, -0.1, -0.05, 0, 0.05, 0.1], "tickCount": 30, "format": "~g", "labelOverlap": false, "title": "Horizontalni pomik [m]", "labelPadding": 8, "titlePadding": 8}},
        "y": {"field": "y", "type": "quantitative", "scale": {"domain": [0.675, 1.008], "nice": false, "zero": false},
              "axis": {"values": [0.7, 0.75, 0.8, 0.85, 0.9, 0.95, 1], "tickCount": 30, "format": "~g", "labelOverlap": false, "title": "Vertikalni pomik [m]"}},
        "detail": {"field": "c"},
        "order": {"field": "i"}
       }
      },
      {
       "data": {"name": "Amk"},
       "mark": {"type": "point", "filled": false, "stroke": "#151515", "strokeWidth": 1, "size": 60},
       "encoding": {
        "x": {"field": "x", "type": "quantitative"},
        "y": {"field": "y", "type": "quantitative"},
        "shape": {"field": "m", "type": "nominal",
                  "scale": {"domain": ["pricetek", "razbr. stola", "zaviranje"], "range": ["circle", "square", "diamond"]},
                  "legend": {"title": null, "orient": "none", "legendX": 64, "legendY": 72, "strokeColor": "#151515", "fillColor": "white", "padding": 7, "symbolOffset": 16, "labelOffset": 34, "rowPadding": 2, "labelFontSize": 13, "labelFont": "Liberation Sans", "labelColor": "#151515", "symbolStrokeColor": "#151515", "symbolFillColor": "transparent", "symbolSize": 60, "symbolStrokeWidth": 1}}
       }
      }
     ]
    },
    {
     "width": 426, "height": 362,
     "title": {"text": "C) TRAJEKTORIJI SKLEPOV GLEŽNJA IN KOLKA", "offset": -1},
     "layer": [
      {
       "data": {"name": "C"},
       "mark": {"type": "line", "color": "#151515", "strokeWidth": 1.1},
       "encoding": {
        "x": {"field": "t", "type": "quantitative", "scale": {"domain": [-4, 10], "nice": false},
              "axis": {"values": [-4, -2, 0, 2, 4, 6, 8, 10], "tickCount": 30, "format": "d", "labelOverlap": false, "title": ["t[s]", ""], "titleLineHeight": 26, "labelPadding": 4, "titlePadding": 8}},
        "y": {"field": "v", "type": "quantitative", "scale": {"domain": [-100, 0], "nice": false},
              "axis": {"values": [-100, -90, -80, -70, -60, -50, -40, -30, -20, -10, 0], "tickCount": 30, "format": "d", "labelOverlap": false, "title": "[stopinje]"}},
        "detail": {"field": "c"},
        "strokeDash": {"field": "j", "type": "nominal",
                       "scale": {"domain": ["kot gleznja", "kot kolka"], "range": [[1, 0], [3, 2]]},
                       "legend": {"title": null, "orient": "none", "legendX": 278, "legendY": 694, "strokeColor": "#151515", "fillColor": "white", "padding": 6, "symbolOffset": 4, "labelOffset": 20, "rowPadding": 0, "clipHeight": 14, "labelFontSize": 13, "labelFont": "Liberation Sans", "labelColor": "#151515", "symbolType": "stroke", "symbolSize": 900, "symbolStrokeColor": "#151515", "symbolStrokeWidth": 1}}
       }
      },
      {
       "data": {"name": "Cn"},
       "mark": {"type": "text", "align": "left", "baseline": "middle", "font": "Liberation Sans", "fontSize": 13, "color": "#151515"},
       "encoding": {"x": {"field": "t", "type": "quantitative"}, "y": {"field": "v", "type": "quantitative"}, "text": {"field": "s"}}
      }
     ]
    }
   ]
  },
  {
   "spacing": 83, "bounds": "flush",
   "vconcat": [
    {
     "width": 412, "height": 357,
     "title": {"text": "B) NAKLON TRUPA GLEDE NA VERTIKALNO OS", "offset": 4},
     "layer": [
      {
       "data": {"name": "B"},
       "mark": {"type": "line", "color": "#151515", "strokeWidth": 1.1},
       "encoding": {
        "x": {"field": "t", "type": "quantitative", "scale": {"domain": [-4, 10], "nice": false},
              "axis": {"values": [-4, -2, 0, 2, 4, 6, 8, 10], "tickCount": 30, "format": "d", "labelOverlap": false, "title": "t[s]", "labelPadding": 7, "titlePadding": 6}},
        "y": {"field": "v", "type": "quantitative", "scale": {"domain": [-50, -5], "nice": false, "zero": false},
              "axis": {"values": [-50, -45, -40, -35, -30, -25, -20, -15, -10, -5], "tickCount": 30, "format": "d", "labelOverlap": false, "title": "[stopinje]"}},
        "detail": {"field": "c"}
       }
      },
      {
       "data": {"name": "Bn"},
       "mark": {"type": "text", "align": "left", "baseline": "middle", "font": "Liberation Sans", "fontSize": 13, "color": "#151515"},
       "encoding": {"x": {"field": "t", "type": "quantitative"}, "y": {"field": "v", "type": "quantitative"}, "text": {"field": "s"}}
      }
     ]
    },
    {
     "width": 410, "height": 362,
     "title": {"text": "D) TRAJEKTORIJA SKLEPA KOLENA", "offset": 3},
     "layer": [
      {
       "data": {"name": "D"},
       "mark": {"type": "line", "color": "#151515", "strokeWidth": 1.1},
       "encoding": {
        "x": {"field": "t", "type": "quantitative", "scale": {"domain": [-4, 10], "nice": false},
              "axis": {"values": [-4, -2, 0, 2, 4, 6, 8, 10], "tickCount": 30, "format": "d", "labelOverlap": false, "title": "t[s]", "labelPadding": 11, "titlePadding": 5}},
        "y": {"field": "v", "type": "quantitative", "scale": {"domain": [0, 120], "nice": false},
              "axis": {"values": [0, 20, 40, 60, 80, 100, 120], "tickCount": 30, "format": "d", "labelOverlap": false, "title": "[stopinje]"}},
        "detail": {"field": "c"}
       }
      },
      {
       "data": {"name": "Dn"},
       "mark": {"type": "text", "align": "left", "baseline": "middle", "font": "Liberation Sans", "fontSize": 13, "color": "#151515"},
       "encoding": {"x": {"field": "t", "type": "quantitative"}, "y": {"field": "v", "type": "quantitative"}, "text": {"field": "s"}}
      }
     ]
    }
   ]
  }
 ],
 "config": {
  "locale": {"number": {"decimal": ".", "thousands": ",", "grouping": [3], "currency": ["$", ""], "minus": "-"}},
  "view": {"fill": "white", "stroke": "#151515", "strokeWidth": 1.2},
  "title": {"font": "Liberation Sans", "fontSize": 14, "fontWeight": "normal", "color": "#151515", "anchor": "middle"},
  "axis": {"grid": true, "gridColor": "#151515", "gridDash": [2, 3], "gridOpacity": 0.85, "gridWidth": 1, "domain": false, "ticks": false, "labelPadding": 5, "labelFlush": false, "labelOverlap": false, "labelFont": "Liberation Sans", "labelFontSize": 13, "labelColor": "#151515", "titleFont": "Liberation Sans", "titleFontSize": 13, "titleFontWeight": "normal", "titleColor": "#151515"}
 }
}
